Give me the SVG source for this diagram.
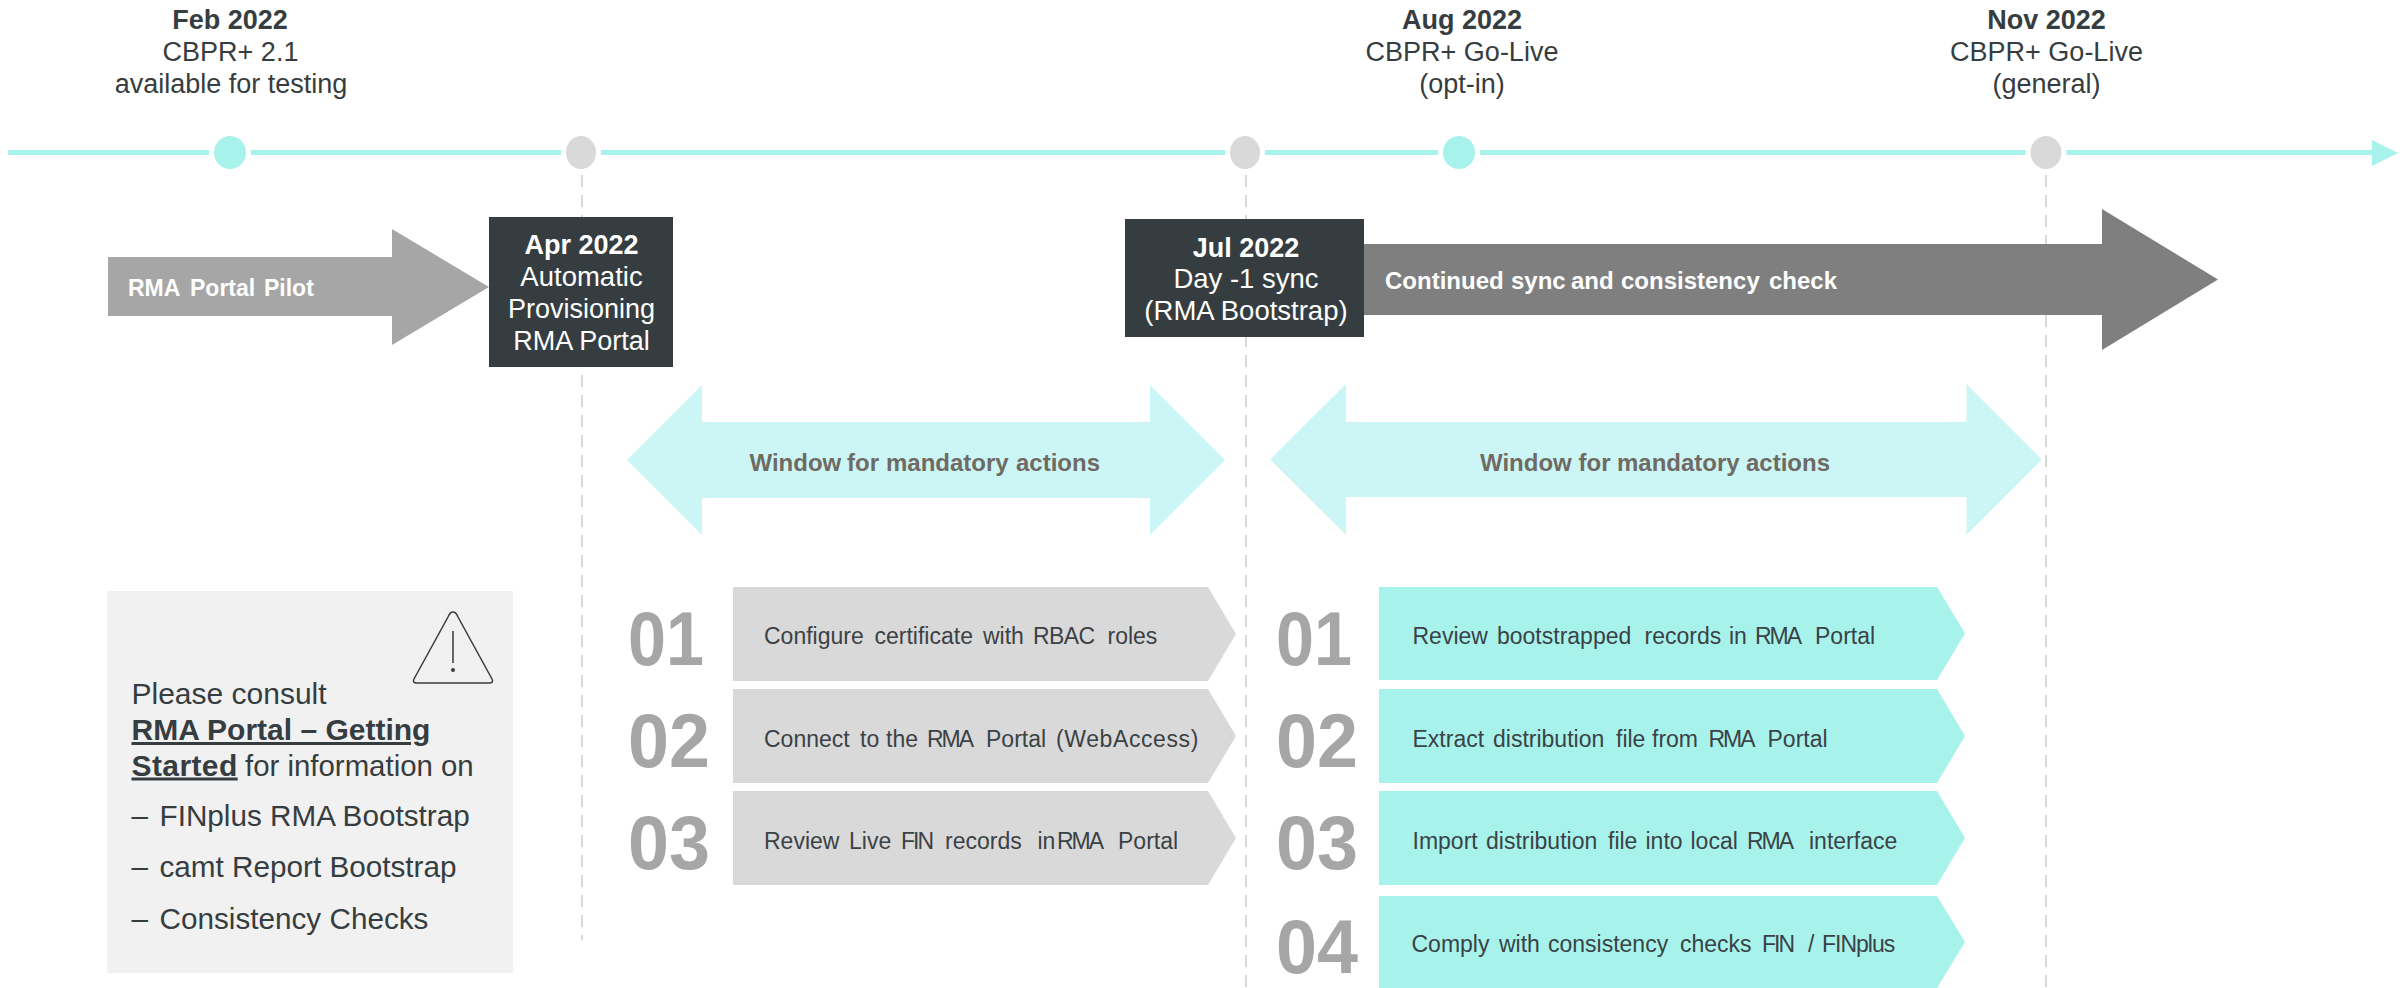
<svg xmlns="http://www.w3.org/2000/svg" width="2405" height="988" viewBox="0 0 2405 988">
<defs>
<style>
text{font-family:"Liberation Sans",Arial,sans-serif;}
.t{font-size:27px;fill:#363d40;text-anchor:middle;}
.l{font-size:27.5px;}
.b{font-weight:700;}
.w{fill:#fff;}
.num{font-size:76px;font-weight:700;fill:#a6a6a6;}
.st{font-size:23px;fill:#3b4245;}
.nr{letter-spacing:-2px;}
.nr1{letter-spacing:-1px;}
.win{font-size:24px;font-weight:700;fill:#6f6a63;}
.bar{font-size:24px;font-weight:700;fill:#fff;}
.p{font-size:29.7px;fill:#363d40;}
.dash{stroke:#d9d9d9;stroke-width:2;stroke-dasharray:12 8;fill:none;}
.gchev{fill:#d9d9d9;}
.tchev{fill:#a7f3ec;}
.dbl{fill:#ccf6f5;}
.box{fill:#363d40;}
.ring{stroke:#fff;stroke-width:5;}
</style>
</defs>
<rect width="2405" height="988" fill="#fff"/>
<g id="connectors">
<rect x="8" y="150" width="2366" height="5" fill="#a7f3ec"/>
<polygon points="2372,140 2398,153 2372,166" fill="#a7f3ec"/>
<line class="dash" x1="582" y1="175" x2="582" y2="940"/>
<line class="dash" x1="1246" y1="175" x2="1246" y2="988"/>
<line class="dash" x1="2046" y1="175" x2="2046" y2="988"/>
</g>
<g id="ms-feb"><ellipse class="ring" cx="230" cy="152.5" rx="18.5" ry="19" fill="#a7f3ec"/>
<text class="t b" x="230" y="28.5">Feb 2022</text><text class="t" x="230.5" y="60.5">CBPR+ 2.1</text><text class="t" x="231" y="92.5">available for testing</text></g>
<g id="ms-apr"><ellipse class="ring" cx="581" cy="152.5" rx="17.5" ry="19" fill="#d9d9d9"/></g>
<g id="ms-jul"><ellipse class="ring" cx="1245" cy="152.5" rx="17.5" ry="19" fill="#d9d9d9"/></g>
<g id="ms-aug"><ellipse class="ring" cx="1459" cy="152.5" rx="18.5" ry="19" fill="#a7f3ec"/>
<text class="t b" x="1462" y="28.5">Aug 2022</text><text class="t" x="1462" y="60.5">CBPR+ Go-Live</text><text class="t" x="1462" y="92.5">(opt-in)</text></g>
<g id="ms-nov"><ellipse class="ring" cx="2046" cy="152.5" rx="18" ry="19" fill="#d9d9d9"/>
<text class="t b" x="2046.5" y="28.5">Nov 2022</text><text class="t" x="2046.5" y="60.5">CBPR+ Go-Live</text><text class="t" x="2046.5" y="92.5">(general)</text></g>
<g id="pilot"><polygon points="108,257 392,257 392,229 489,287 392,345 392,316 108,316" fill="#a6a6a6"/>
<text class="bar" y="296" style="font-size:23px"><tspan x="128">RMA </tspan><tspan x="190">Portal </tspan><tspan x="264">Pilot</tspan></text></g>
<g id="apr-box"><rect class="box" x="489" y="217" width="184" height="150"/>
<text class="t b w" x="581.5" y="254">Apr 2022</text><text class="t l w" x="581.5" y="286">Automatic</text><text class="t w" x="581.5" y="318">Provisioning</text><text class="t w" x="581.5" y="350">RMA Portal</text></g>
<g id="sync"><polygon points="1364,244 2102,244 2102,209 2218,279.5 2102,350 2102,315 1364,315" fill="#7f7f7f"/>
<text class="bar" y="289"><tspan x="1385">Continued </tspan><tspan x="1511">sync </tspan><tspan x="1571">and </tspan><tspan x="1621">consistency </tspan><tspan x="1769">check</tspan></text></g>
<g id="jul-box"><rect class="box" x="1125" y="219" width="239" height="118"/>
<text class="t b w" x="1246" y="256.5">Jul 2022</text><text class="t l w" x="1246" y="288">Day -1 sync</text><text class="t l w" x="1246" y="320">(RMA Bootstrap)</text></g>
<g id="window-1"><polygon class="dbl" points="627,460 702,385 702,422 1150,422 1150,385 1225,460 1150,535 1150,498 702,498 702,535"/>
<text class="win" y="471"><tspan x="749.5">Window </tspan><tspan x="847">for </tspan><tspan x="886">mandatory </tspan><tspan x="1016">actions</tspan></text></g>
<g id="window-2"><polygon class="dbl" points="1270,459.5 1346,384 1346,422 1966.5,422 1966.5,384 2042,459.5 1966.5,535 1966.5,497 1346,497 1346,535"/>
<text class="win" y="471"><tspan x="1480">Window </tspan><tspan x="1578.5">for </tspan><tspan x="1617">mandatory </tspan><tspan x="1746">actions</tspan></text></g>
<g id="note"><rect x="107" y="591" width="406" height="382" fill="#f1f1f1"/>
<path d="M453 612 Q456 612 458 617 L492 679 Q494 683 489 683 L417 683 Q412 683 414 679 L448 617 Q450 612 453 612Z M453 631 V663" fill="none" stroke="#363d40" stroke-width="1.5"/>
<circle cx="453" cy="670" r="2" fill="#363d40"/>
<text class="p" x="131.5" y="704" style="font-size:30px">Please consult</text>
<text class="p b" x="131.5" y="740" style="font-size:30px" text-decoration="underline">RMA Portal – Getting</text>
<text class="p" x="131.5" y="775.5"><tspan class="b" style="font-size:30px;letter-spacing:.4px" text-decoration="underline">Started</tspan><tspan x="245" style="font-size:29.4px">for information on</tspan></text>
<text class="p" x="131.5" y="826">–</text><text class="p" x="159.5" y="826">FINplus RMA Bootstrap</text>
<text class="p" x="131.5" y="877">–</text><text class="p" x="159.5" y="877">camt Report Bootstrap</text>
<text class="p" x="131.5" y="929">–</text><text class="p" x="159.5" y="929">Consistency Checks</text></g>
<g id="g1"><text class="num" x="628" y="665" textLength="76" lengthAdjust="spacingAndGlyphs">01</text><polygon class="gchev" points="733,587 1208,587 1236,634 1208,681 733,681"/>
<text class="st" y="644"><tspan x="764">Configure </tspan><tspan x="874.5">certificate </tspan><tspan x="983">with </tspan><tspan x="1033" style="letter-spacing:-.6px">RBAC </tspan><tspan x="1107.5">roles</tspan></text></g>
<g id="g2"><text class="num" x="628" y="767" textLength="82" lengthAdjust="spacingAndGlyphs">02</text><polygon class="gchev" points="733,689 1208,689 1236,736 1208,783 733,783"/>
<text class="st" y="747"><tspan x="764">Connect </tspan><tspan x="860">to </tspan><tspan x="886">the </tspan><tspan x="927" class="nr">RMA </tspan><tspan x="986">Portal </tspan><tspan x="1056" style="letter-spacing:.6px">(WebAccess)</tspan></text></g>
<g id="g3"><text class="num" x="628" y="869" textLength="82" lengthAdjust="spacingAndGlyphs">03</text><polygon class="gchev" points="733,791 1208,791 1236,838 1208,885 733,885"/>
<text class="st" y="849"><tspan x="764">Review </tspan><tspan x="849">Live </tspan><tspan x="901" class="nr">FIN </tspan><tspan x="945">records </tspan><tspan x="1037.5">in </tspan><tspan x="1057" class="nr">RMA </tspan><tspan x="1118">Portal</tspan></text></g>
<g id="t1"><text class="num" x="1276" y="665" textLength="76" lengthAdjust="spacingAndGlyphs">01</text><polygon class="tchev" points="1379,587 1937,587 1965,633.5 1937,680 1379,680"/>
<text class="st" y="643.5"><tspan x="1412.5">Review </tspan><tspan x="1497">bootstrapped </tspan><tspan x="1644.5">records </tspan><tspan x="1729">in </tspan><tspan x="1755" class="nr">RMA </tspan><tspan x="1815">Portal</tspan></text></g>
<g id="t2"><text class="num" x="1276" y="767" textLength="82" lengthAdjust="spacingAndGlyphs">02</text><polygon class="tchev" points="1379,689 1937,689 1965,736 1937,783 1379,783"/>
<text class="st" y="747"><tspan x="1412.5">Extract </tspan><tspan x="1493">distribution </tspan><tspan x="1616">file </tspan><tspan x="1652">from </tspan><tspan x="1708.5" class="nr">RMA </tspan><tspan x="1767.5">Portal</tspan></text></g>
<g id="t3"><text class="num" x="1276" y="869" textLength="82" lengthAdjust="spacingAndGlyphs">03</text><polygon class="tchev" points="1379,791 1937,791 1965,838 1937,885 1379,885"/>
<text class="st" y="849"><tspan x="1412.5">Import </tspan><tspan x="1486">distribution </tspan><tspan x="1608">file </tspan><tspan x="1645.5">into </tspan><tspan x="1690.5">local </tspan><tspan x="1747" class="nr">RMA </tspan><tspan x="1809">interface</tspan></text></g>
<g id="t4"><text class="num" x="1276" y="973" textLength="82" lengthAdjust="spacingAndGlyphs">04</text><polygon class="tchev" points="1379,896 1937,896 1965,942 1937,988 1379,988"/>
<text class="st" y="952"><tspan x="1411.5">Comply </tspan><tspan x="1499">with </tspan><tspan x="1548">consistency </tspan><tspan x="1680">checks </tspan><tspan x="1762" class="nr">FIN </tspan><tspan x="1808">/ </tspan><tspan x="1822" class="nr1">FINplus</tspan></text></g>
</svg>
